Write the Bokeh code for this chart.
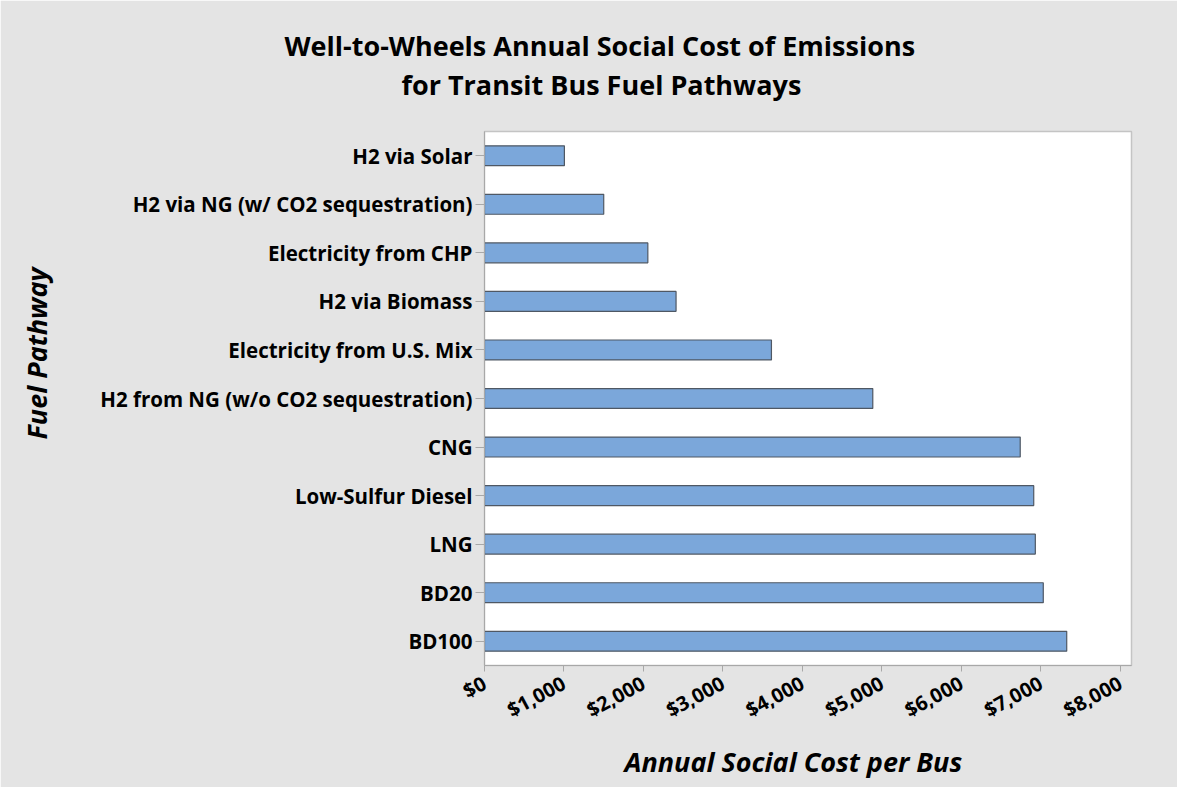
import math
from bokeh.plotting import figure
from bokeh.models import ColumnDataSource, Range1d, FactorRange, Title, NumeralTickFormatter, FixedTicker
from bokeh.embed import file_html
from bokeh.resources import INLINE

pathways = [
    "H2 via Solar",
    "H2 via NG (w/ CO2 sequestration)",
    "Electricity from CHP",
    "H2 via Biomass",
    "Electricity from U.S. Mix",
    "H2 from NG (w/o CO2 sequestration)",
    "CNG",
    "Low-Sulfur Diesel",
    "LNG",
    "BD20",
    "BD100",
]
annual_cost = [1005, 1500, 2055, 2410, 3610, 4885, 6740, 6910, 6930, 7030, 7325]
x_ticks = [0, 1000, 2000, 3000, 4000, 5000, 6000, 7000, 8000]

FONT = "Open Sans"

src = ColumnDataSource(dict(pathway=pathways, cost=annual_cost))

p = figure(
    width=1177, height=787,
    y_range=FactorRange(factors=list(reversed(pathways))),
    x_range=Range1d(0, 8140),
    output_backend="svg", toolbar_location=None, title_location=None,
    min_border_left=484, min_border_right=46, min_border_top=131, min_border_bottom=122,
)
p.border_fill_color = "#e4e4e4"
p.background_fill_color = "white"
p.outline_line_color = "#c4c4c4"
p.outline_line_width = 1.5
p.grid.visible = False

p.hbar(y="pathway", right="cost", left=0, height=0.41, source=src,
       fill_color="#7ba7da", line_color="#4f5864", line_width=1.2)

# axes
for ax in (p.xaxis[0], p.yaxis[0]):
    ax.axis_line_color = "#a8a8a8"
    ax.major_tick_line_color = "#a8a8a8"
    ax.minor_tick_line_color = None
    ax.major_tick_in = 0
    ax.major_label_text_font = FONT
    ax.major_label_text_font_style = "bold"
    ax.major_label_text_color = "black"

p.yaxis.major_tick_out = 9
p.yaxis.major_label_standoff = 3
p.yaxis.major_label_text_font_size = "20.5px"

p.xaxis.ticker = FixedTicker(ticks=x_ticks)
p.xaxis.formatter = NumeralTickFormatter(format="$0,0")
p.xaxis.major_tick_out = 6
p.xaxis.major_label_standoff = 10
p.xaxis.major_label_orientation = math.radians(28)
p.xaxis.major_label_text_font_size = "20px"


def spacer(size, side):
    p.add_layout(Title(text=" ", text_font_size="1px", standoff=size), side)


def title(text, side, size, style, offset, valign="bottom"):
    p.add_layout(Title(text=text, align="left", offset=offset, standoff=0,
                       vertical_align=valign, text_font=FONT, text_font_size=size,
                       text_font_style=style, text_color="black"), side)


# chart title (two centred lines), stacked outward from the frame
spacer(26, "above")
title("for Transit Bus Fuel Pathways", "above", "27px", "bold", -83)
title("Well-to-Wheels Annual Social Cost of Emissions", "above", "27px", "bold", -200)

# x axis title
spacer(2, "below")
title("Annual Social Cost per Bus", "below", "27px", "bold italic", 140, valign="top")

# y axis title
spacer(40, "left")
title("Fuel Pathway", "left", "27px", "bold italic", 226)

open("out.html", "w").write(file_html(p, INLINE))
